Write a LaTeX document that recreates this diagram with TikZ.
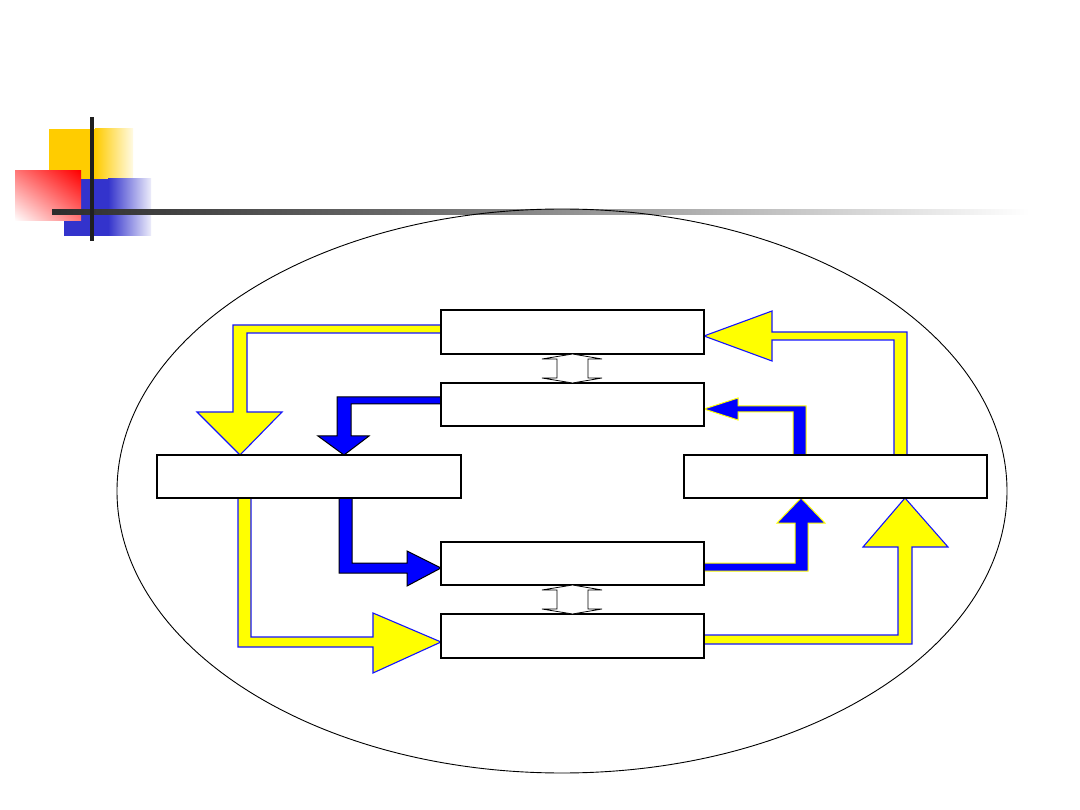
\documentclass[tikz,border=0pt]{standalone}
\usetikzlibrary{shadings}
\begin{document}
\begin{tikzpicture}[x=1pt,y=-1pt]
\definecolor{ylw}{RGB}{255,255,0}
\definecolor{blu}{RGB}{0,0,255}
\definecolor{arrblue}{RGB}{20,20,255}
\definecolor{sqyellow}{RGB}{255,204,0}
\definecolor{sqblue}{RGB}{51,51,204}
\definecolor{bardark}{RGB}{45,45,45}
\definecolor{barmid}{RGB}{105,105,105}
\definecolor{pinkish}{RGB}{255,120,120}
\tikzset{
  boxnode/.style={draw=black,line width=1.2pt,fill=white,inner sep=0pt,outer sep=0pt,minimum height=43pt},
  yarrow/.style={fill=ylw,draw=arrblue,line width=1.1pt,line join=miter},
  barrowk/.style={fill=blu,draw=black,line width=1pt,line join=miter},
  barrowy/.style={fill=blu,draw=ylw,line width=1pt,line join=miter},
  dblarrow/.style={fill=white,draw=black,line width=0.8pt,line join=miter}
}
\useasboundingbox[fill=white] (0,0) rectangle (1080,810);
% decoration squares
\fill[sqyellow] (49,129) rectangle (96,179);
\shade[left color=sqyellow,right color={rgb,255:red,255;green,250;blue,228}] (95,129) rectangle (133,179);
\fill[sqblue] (64,179) rectangle (109,236);
\shade[left color=sqblue,right color={rgb,255:red,236;green,236;blue,250}] (108,179) rectangle (151,236);
\shade[upper right=red,lower left=white,upper left=pinkish,lower right=pinkish] (15,221) rectangle (81,171);
% title bar
\shade[left color=bardark,right color=barmid] (52,210) rectangle (400,215);
\shade[left color=barmid,right color=white] (399.5,210) rectangle (1030,215);
\fill[black!88] (90,117) rectangle (94,241);
% ellipse
\draw[line width=0.9pt] (562,491) ellipse [x radius=445pt, y radius=282pt];
% block arrows
\path[yarrow] (441,325) -- (233,325) -- (233,412) -- (197,412) -- (240,455) -- (282,412) -- (247,412) -- (247,333) -- (441,333) -- cycle;
\path[barrowk] (441,397) -- (337,397) -- (337,436) -- (318,436) -- (344,455) -- (369,436) -- (351,436) -- (351,404) -- (441,404) -- cycle;
\path[yarrow] (907,455) -- (907,332) -- (772,332) -- (772,311) -- (704,336) -- (772,361) -- (772,340) -- (894,340) -- (894,455) -- cycle;
\path[barrowy] (806,455) -- (806,406) -- (738,406) -- (738,398) -- (704,409) -- (738,420) -- (738,412) -- (793,412) -- (793,455) -- cycle;
\path[yarrow] (238,498) -- (238,647) -- (373,647) -- (373,673) -- (441,642) -- (373,613) -- (373,637) -- (251,637) -- (251,498) -- cycle;
\path[barrowk] (339,498) -- (339,573) -- (407,573) -- (407,586) -- (441,568) -- (407,551) -- (407,563) -- (352,563) -- (352,498) -- cycle;
\path[barrowy] (704,563) -- (795,563) -- (795,523) -- (777,523) -- (801,498) -- (825,523) -- (808,523) -- (808,571) -- (704,571) -- cycle;
\path[yarrow] (704,635) -- (898,635) -- (898,547) -- (863,547) -- (905,498) -- (948,547) -- (912,547) -- (912,644) -- (704,644) -- cycle;
% boxes
\node[boxnode,minimum width=263pt,minimum height=44pt] (A) at (572.5,332) {};
\node[boxnode,minimum width=263pt] (B) at (572.5,404.5) {};
\node[boxnode,minimum width=304pt] (L) at (309,476.5) {};
\node[boxnode,minimum width=303pt] (R) at (835.5,476.5) {};
\node[boxnode,minimum width=263pt] (C) at (572.5,563.5) {};
\node[boxnode,minimum width=263pt,minimum height=44pt] (D) at (572.5,636) {};
% double arrows
\path[dblarrow] (A.south) -- (602,359) -- (588,359) -- (588,378) -- (602,378) -- (B.north) -- (542,378) -- (557,378) -- (557,359) -- (542,359) -- cycle;
\path[dblarrow] (C.south) -- (602,590) -- (588,590) -- (588,609) -- (602,609) -- (D.north) -- (542,609) -- (557,609) -- (557,590) -- (542,590) -- cycle;
\end{tikzpicture}
\end{document}
